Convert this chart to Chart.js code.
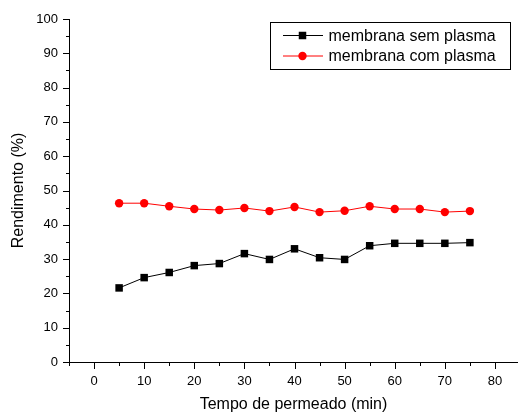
<!DOCTYPE html>
<html>
<head>
<meta charset="utf-8">
<script src="https://cdn.jsdelivr.net/npm/chart.js@4/dist/chart.umd.min.js"></script>
<style>
  html, body { margin: 0; padding: 0; background: #ffffff; }
  #wrap { width: 518px; height: 414px; }
</style>
</head>
<body>
<div id="wrap"><canvas id="c" width="518" height="414"></canvas></div>
<script>
// Permeation time (min)
const tempo = [5, 10, 15, 20, 25, 30, 35, 40, 45, 50, 55, 60, 65, 70, 75];
// Yield (%) for each membrane
const semPlasma = [21.6, 24.6, 26.1, 28.1, 28.7, 31.6, 29.9, 33.0, 30.4, 29.9, 33.9, 34.6, 34.6, 34.6, 34.8];
const comPlasma = [46.3, 46.3, 45.4, 44.6, 44.3, 44.9, 44.0, 45.2, 43.7, 44.1, 45.4, 44.6, 44.6, 43.7, 44.0];
// Labelled tick values
const xTickLabels = [0, 10, 20, 30, 40, 50, 60, 70, 80];
const yTickLabels = [0, 10, 20, 30, 40, 50, 60, 70, 80, 90, 100];

const FONT = "'Liberation Sans', Arial, Helvetica, sans-serif";

// Axis lines with outward major/minor tick marks
const axisPlugin = {
  id: 'axisLines',
  beforeDatasetsDraw(chart) {
    const { ctx, chartArea: a, scales: { x, y } } = chart;
    ctx.save();
    ctx.strokeStyle = '#000';
    ctx.lineWidth = 1;
    ctx.beginPath();
    ctx.moveTo(a.left + 0.5, a.top);
    ctx.lineTo(a.left + 0.5, a.bottom + 0.5);
    ctx.lineTo(a.right, a.bottom + 0.5);
    ctx.stroke();
    ctx.beginPath();
    x.ticks.forEach(t => {
      const px = Math.round(x.getPixelForValue(t.value)) + 0.5;
      const len = xTickLabels.includes(t.value) ? 7 : 4;
      ctx.moveTo(px, a.bottom);
      ctx.lineTo(px, a.bottom + len);
    });
    y.ticks.forEach(t => {
      const py = Math.round(y.getPixelForValue(t.value)) + 0.5;
      const len = yTickLabels.includes(t.value) ? 7 : 4;
      ctx.moveTo(a.left + 1, py);
      ctx.lineTo(a.left + 1 - len, py);
    });
    ctx.stroke();
    ctx.restore();
  }
};

// Boxed legend with line + marker samples
const legendPlugin = {
  id: 'boxLegend',
  afterDraw(chart) {
    const { ctx } = chart;
    const box = { x: 270.5, y: 22.5, w: 240, h: 47 };
    ctx.save();
    ctx.strokeStyle = '#000';
    ctx.lineWidth = 1;
    ctx.strokeRect(box.x, box.y, box.w, box.h);
    ctx.font = '16px ' + FONT;
    ctx.textBaseline = 'middle';
    chart.data.datasets.forEach((ds, i) => {
      const cy = 35.5 + i * 20.5;
      ctx.strokeStyle = ds.borderColor;
      ctx.lineWidth = 1;
      ctx.beginPath();
      ctx.moveTo(283, cy);
      ctx.lineTo(323, cy);
      ctx.stroke();
      ctx.fillStyle = ds.backgroundColor;
      ctx.strokeStyle = ds.borderColor;
      Chart.helpers.drawPoint(ctx, { pointStyle: ds.pointStyle, radius: ds.pointRadius, borderWidth: 0 }, 302.5, cy);
      ctx.fillStyle = '#000';
      ctx.fillText(ds.label, 328.5, cy + 1);
    });
    ctx.restore();
  }
};

new Chart(document.getElementById('c'), {
  type: 'line',
  data: {
    datasets: [
      {
        label: 'membrana sem plasma',
        data: tempo.map((t, i) => ({ x: t, y: semPlasma[i] })),
        borderColor: '#000000',
        backgroundColor: '#000000',
        borderWidth: 1,
        pointStyle: 'rect',
        pointRadius: 5.3,
        pointBorderWidth: 0,
        tension: 0
      },
      {
        label: 'membrana com plasma',
        data: tempo.map((t, i) => ({ x: t, y: comPlasma[i] })),
        borderColor: '#ff0000',
        backgroundColor: '#ff0000',
        borderWidth: 1,
        pointStyle: 'circle',
        pointRadius: 4.2,
        pointBorderWidth: 0,
        tension: 0
      }
    ]
  },
  options: {
    responsive: false,
    devicePixelRatio: 1,
    animation: false,
    layout: { autoPadding: false, padding: { top: 19, left: 0, right: 0, bottom: 0 } },
    plugins: { legend: { display: false }, tooltip: { enabled: false } },
    scales: {
      x: {
        type: 'linear',
        min: -5,
        max: 84.6,
        border: { display: false },
        grid: { display: false, drawTicks: false },
        ticks: {
          stepSize: 5,
          includeBounds: false,
          autoSkip: false,
          maxRotation: 0,
          padding: 12,
          color: '#000',
          font: { family: FONT, size: 13 },
          callback: v => xTickLabels.includes(v) ? String(v) : ''
        },
        title: {
          display: true,
          text: 'Tempo de permeado (min)',
          color: '#000',
          font: { family: FONT, size: 16 },
          padding: { top: 0, bottom: 0 }
        },
        afterFit: s => { s.height = 52; s.paddingLeft = 0; s.paddingRight = 0; }
      },
      y: {
        type: 'linear',
        min: 0,
        max: 100,
        border: { display: false },
        grid: { display: false, drawTicks: false },
        ticks: {
          stepSize: 5,
          autoSkip: false,
          padding: 11,
          color: '#000',
          font: { family: FONT, size: 13 },
          callback: v => yTickLabels.includes(v) ? String(v) : ''
        },
        title: {
          display: true,
          text: 'Rendimento (%)',
          color: '#000',
          font: { family: FONT, size: 16 },
          padding: { top: 9, bottom: 0 }
        },
        afterFit: s => { s.width = 69; s.paddingTop = 0; s.paddingBottom = 0; }
      }
    }
  },
  plugins: [axisPlugin, legendPlugin]
});
</script>
</body>
</html>
